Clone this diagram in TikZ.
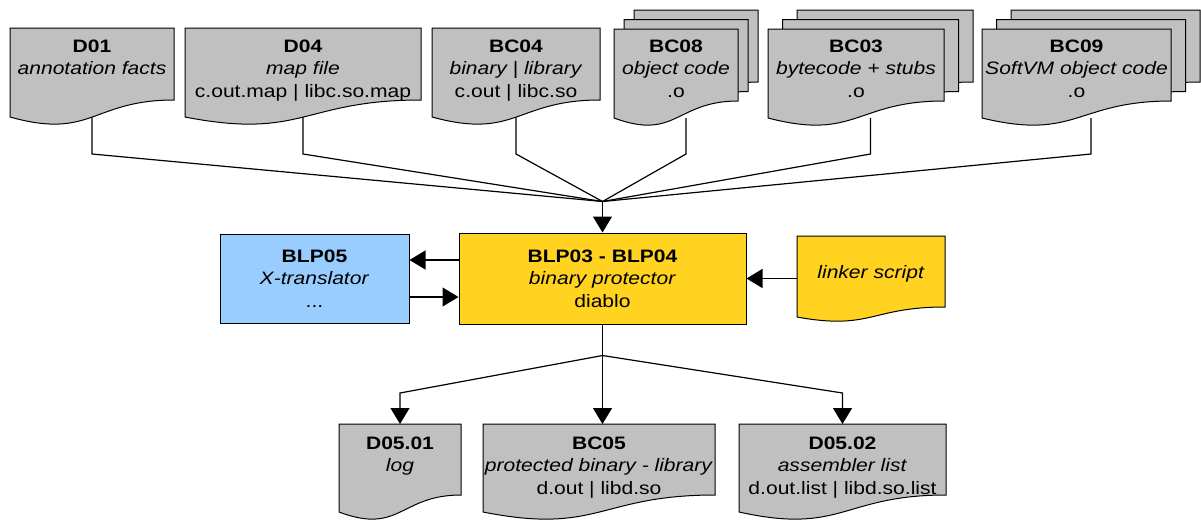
\documentclass[tikz,border=0pt]{standalone}
\usepackage{fontspec}
\setmainfont{Liberation Sans}[FakeStretch=1.17]
\usetikzlibrary{arrows.meta,calc,backgrounds}
\definecolor{docgray}{HTML}{C0C0C0}
\definecolor{boxblue}{HTML}{99CCFF}
\definecolor{boxyellow}{HTML}{FFD320}
\newcommand\docoutline[4]{%
  \filldraw[shapeline, fill=#2] (#1.north west) -- (#1.north east) -- ([yshift=#3pt]#1.south east)
    .. controls ($(#1.south)+(0pt,#3pt)$) and ($(#1.south)+(0pt,-#4pt)$) .. (#1.south west) -- cycle;}
\tikzset{
  shapeline/.style={draw=black, line width=1pt},
  docarea/.style 2 args={minimum width=#1pt, minimum height=#2pt, inner sep=0pt, outer sep=0pt, draw=none},
  txt/.style={align=center, inner sep=0pt, anchor=north, font=\fontsize{18}{22.5}\selectfont},
  boxnode/.style 2 args={shapeline, minimum width=#1pt, minimum height=#2pt, inner sep=0pt, align=center, font=\fontsize{18}{22.5}\selectfont},
  conn/.style={line width=1.2pt, draw=black},
  arr/.style={conn, -{Triangle[length=16pt,width=19pt]}},
}
\begin{document}
\begin{tikzpicture}[x=1pt,y=-1pt]
\useasboundingbox (0,0) rectangle (1201,520);
% ---- top documents
\node[docarea={164}{89}] (d01) at (92,72.5) {};
\node[docarea={236}{89}] (d04) at (303,72.5) {};
\node[docarea={168}{89}] (bc04) at (516,72.5) {};
\node[docarea={124}{89}] (bc08) at (676,73.5) {};
\node[docarea={124}{89}] (bc08b1) at (686,64) {};
\node[docarea={124}{89}] (bc08b2) at (696,54.5) {};
\node[docarea={176}{89}] (bc03) at (856,73.5) {};
\node[docarea={176}{89}] (bc03b1) at (870.5,64) {};
\node[docarea={176}{89}] (bc03b2) at (885,54.5) {};
\node[docarea={189}{89}] (bc09) at (1076.5,73.5) {};
\node[docarea={189}{89}] (bc09b1) at (1091,64) {};
\node[docarea={189}{89}] (bc09b2) at (1105.5,54.5) {};
% ---- middle
\node[boxnode={189}{89}, fill=boxblue] (blp05) at (314.5,278.5)
  {\textbf{BLP05}\\\textit{X-translator}\\...};
\node[boxnode={287}{91}, fill=boxyellow] (blp03) at (602.5,278.5)
  {\textbf{BLP03 - BLP04}\\\textit{binary protector}\\diablo};
\node[docarea={148}{81}] (linker) at (871,276.5) {};
% ---- bottom documents
\node[docarea={122}{88}] (d0501) at (400,468) {};
\node[docarea={232}{88}] (bc05) at (599,468) {};
\node[docarea={207}{88}] (d0502) at (842.5,468) {};
% ---- outlines
\begin{pgfonlayer}{background}
  \docoutline{d01}{docgray}{17}{23}
  \docoutline{d04}{docgray}{17}{23}
  \docoutline{bc04}{docgray}{17}{23}
  \docoutline{bc08b2}{docgray}{17}{23}
  \docoutline{bc08b1}{docgray}{17}{23}
  \docoutline{bc08}{docgray}{17}{23}
  \docoutline{bc03b2}{docgray}{17}{23}
  \docoutline{bc03b1}{docgray}{17}{23}
  \docoutline{bc03}{docgray}{17}{23}
  \docoutline{bc09b2}{docgray}{17}{23}
  \docoutline{bc09b1}{docgray}{17}{23}
  \docoutline{bc09}{docgray}{17}{23}
  \docoutline{linker}{boxyellow}{10}{13.5}
  \docoutline{d0501}{docgray}{17}{23}
  \docoutline{bc05}{docgray}{17}{23}
  \docoutline{d0502}{docgray}{17}{23}
\end{pgfonlayer}
% ---- texts
\node[txt] (d01t) at (92,39.5) {\textbf{D01}\\\textit{annotation facts}};
\node[txt] (d04t) at (303,39.5) {\textbf{D04}\\\textit{map file}\\c.out.map | libc.so.map};
\node[txt] (bc04t) at (516,39.5) {\textbf{BC04}\\\textit{binary | library}\\c.out | libc.so};
\node[txt] (bc08t) at (676,39.5) {\textbf{BC08}\\\textit{object code}\\.o};
\node[txt] (bc03t) at (856,39.5) {\textbf{BC03}\\\textit{bytecode + stubs}\\.o};
\node[txt] (bc09t) at (1076.5,39.5) {\textbf{BC09}\\\textit{SoftVM object code}\\.o};
\node[txt] (linkert) at (871,265) {\textit{linker script}};
\node[txt] (d0501t) at (400,436.5) {\textbf{D05.01}\\\textit{log}};
\node[txt] (bc05t) at (599,436.5) {\textbf{BC05}\\\textit{protected binary - library}\\d.out | libd.so};
\node[txt] (d0502t) at (842.5,436.5) {\textbf{D05.02}\\\textit{assembler list}\\d.out.list | libd.so.list};
% ---- connectors top
\coordinate (kink) at (0,154);
\coordinate (merge) at ($(blp03.north)+(0,-31)$);
\draw[conn] (d01.south) -- (d01.south |- kink) -- (merge);
\draw[conn] (d04.south) -- (d04.south |- kink) -- (merge);
\draw[conn] (bc04.south) -- (bc04.south |- kink) -- (merge);
\draw[conn] (bc08b1.south |- bc08.south) -- (bc08b1.south |- kink) -- (merge);
\draw[conn] (bc03b1.south |- bc03.south) -- (bc03b1.south |- kink) -- (merge);
\draw[conn] (bc09b1.south |- bc09.south) -- (bc09b1.south |- kink) -- (merge);
\draw[arr] (merge) -- (blp03.north);
% ---- middle connectors
\draw[arr] ([yshift=18.5pt]blp03.west) -- ([yshift=18.5pt]blp05.east);
\draw[arr] ([yshift=-18.5pt]blp05.east) -- ([yshift=-18.5pt]blp03.west);
\draw[arr] (linker.west |- blp03.east) -- (blp03.east);
% ---- bottom connectors
\coordinate (split) at ($(blp03.south)+(0,31)$);
\coordinate (lowkink) at (0,393);
\draw[conn] (blp03.south) -- (split);
\draw[arr] (split) -- (d0501.north |- lowkink) -- (d0501.north);
\draw[arr] (split) -- (split |- bc05.north);
\draw[arr] (split) -- (d0502.north |- lowkink) -- (d0502.north);
\end{tikzpicture}
\end{document}
